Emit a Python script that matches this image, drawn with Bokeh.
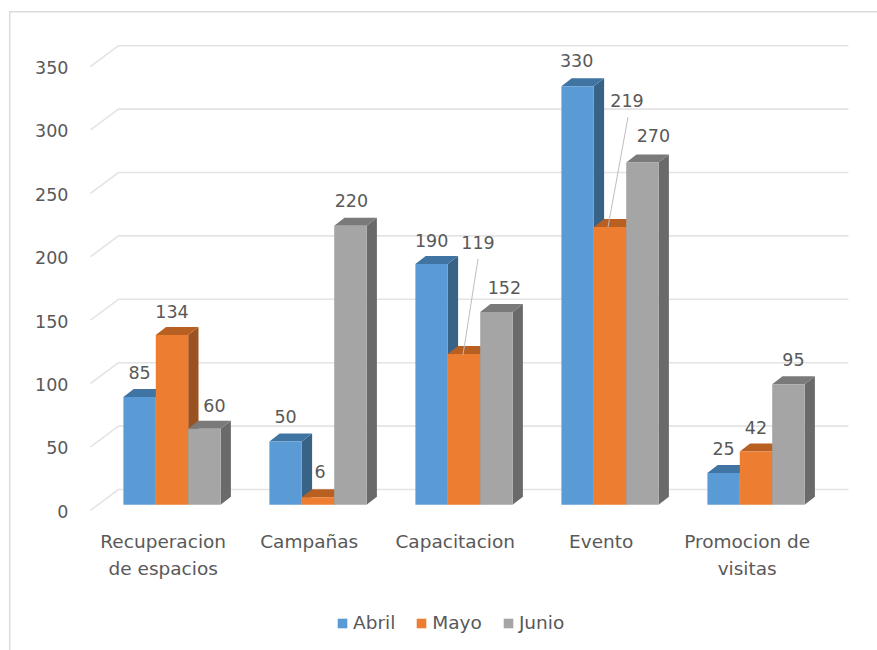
from bokeh.plotting import figure
from bokeh.models import Range1d, LinearAxis, FixedTicker, Legend, LegendItem, ColumnDataSource
from bokeh.core.properties import value
from bokeh.embed import file_html
from bokeh.resources import INLINE

categories = ["Recuperacion\nde espacios", "Campañas", "Capacitacion", "Evento", "Promocion de\nvisitas"]
series_names = ["Abril", "Mayo", "Junio"]
abril = [85, 50, 190, 330, 25]
mayo = [134, 6, 119, 219, 42]
junio = [60, 220, 152, 270, 95]
y_ticks = [0, 50, 100, 150, 200, 250, 300, 350]

FONT = "DejaVu Sans"
FS = "17.5px"
FS_CAT = "18.5px"
TXT = "#595959"
W, H = 877, 650
PX_X, PX_Y = 146.0, 1.268
X0_PAGE, Y0_PAGE = 171.5, 504.3
LEFT, RIGHT, TOP, BOTTOM = 75, W, 0, H
xp = lambda d: d / PX_X
yp = lambda d: d / PX_Y
xr = Range1d((LEFT - X0_PAGE) / PX_X, (RIGHT - X0_PAGE) / PX_X)
yr = Range1d((Y0_PAGE - BOTTOM) / PX_Y, (Y0_PAGE - TOP) / PX_Y)

p = figure(width=W, height=H, x_range=xr, y_range=yr, x_axis_type=None, y_axis_type=None,
           toolbar_location=None, output_backend="svg",
           min_border_left=LEFT, min_border_right=0, min_border_top=0, min_border_bottom=0,
           background_fill_color=None, border_fill_color=None, outline_line_color=None)
p.grid.visible = False
# chart-area frame behind the transparent canvas
p.styles = {"background": "linear-gradient(#dcdcdc,#dcdcdc) 8.5px 11px/1.5px 100% no-repeat,"
                          "linear-gradient(#dcdcdc,#dcdcdc) 8.5px 11px/100% 1.5px no-repeat"}

# value axis
p.extra_y_ranges["axis"] = Range1d(yr.start + yp(6.5), yr.end + yp(6.5))
yax = LinearAxis(y_range_name="axis", ticker=FixedTicker(ticks=y_ticks),
                 axis_line_color=None, major_tick_line_color=None, minor_tick_line_color=None,
                 major_label_text_font=FONT, major_label_text_font_size=FS,
                 major_label_text_color=TXT, major_label_standoff=1)
p.add_layout(yax, "left")

# category labels
p.text(x=[i - xp(8.8) for i in range(len(categories))], y=[0] * len(categories), text=categories,
       y_offset=26, text_align="center", text_baseline="top", text_line_height=1.3,
       text_color=TXT, text_font=value(FONT), text_font_size=FS_CAT)

# floor / wall grid
bx0, bx1, fx = (118 - X0_PAGE) / PX_X, (848 - X0_PAGE) / PX_X, (90 - X0_PAGE) / PX_X
back, front = yp(15.3), yp(-5.5)
p.multi_line(xs=[[fx, bx0, bx1] for _ in y_ticks],
             ys=[[t + front, t + back, t + back] for t in y_ticks],
             line_color="#e4e4e4", line_width=1.6)

# 3D bars
depth_x, depth_y = xp(10.3), yp(8)
bar_w = xp(32.4)
styles = [("#5B9BD5", "#3F74A3", "#396287"),
          ("#ED7D31", "#B85F22", "#9A5220"),
          ("#A5A5A5", "#7A7A7A", "#6A6A6A")]
all_values = [abril, mayo, junio]
front_r = []
for s, (vals, (cf, ct, cs)) in enumerate(zip(all_values, styles)):
    off = (s - 1.5) * bar_w
    lefts = [i + off for i in range(len(vals))]
    rights = [l + bar_w for l in lefts]
    p.patches(xs=[[r, r + depth_x, r + depth_x, r] for r in rights],
              ys=[[0, depth_y, v + depth_y, v] for v in vals],
              fill_color=cs, line_color=None)
    p.patches(xs=[[l, l + depth_x, r + depth_x, r] for l, r in zip(lefts, rights)],
              ys=[[v, v + depth_y, v + depth_y, v] for v in vals],
              fill_color=ct, line_color=None)
    front_r.append(p.quad(left=lefts, right=rights, bottom=0, top=vals, fill_color=cf, line_color=None))

# data labels (pixel nudges from the default place above each bar)
nudge_x = [[0, 0, 0, -1, 0], [0, 2, 14, 17, 0], [10, 1, 8, 11, 5]]
nudge_y = [[24.5, 24.5, 23.5, 25.5, 24.5], [23.5, 25.5, 111.5, 126.5, 24.5], [23.5, 25.5, 24.5, 26.5, 24.5]]
for s, vals in enumerate(all_values):
    xs = [i + (s - 1) * bar_w for i in range(len(vals))]
    src = ColumnDataSource(dict(x=xs, y=vals, t=[str(v) for v in vals],
                                dx=nudge_x[s], dy=[-d for d in nudge_y[s]]))
    p.text(x="x", y="y", text="t", x_offset="dx", y_offset="dy", source=src,
           text_align="center", text_baseline="middle", text_color=TXT,
           text_font=value(FONT), text_font_size=FS)

# leader lines for the two moved labels
for i, (dx0, dy0, dx1, dy1) in {2: (-1, -1, 14, 95), 3: (-2, 0, 18, 110)}.items():
    v = mayo[i]
    p.line([i + xp(dx0), i + xp(dx1)], [v + yp(dy0), v + yp(dy1)], line_color="#bdbdbd", line_width=1)

legend = Legend(items=[LegendItem(label=value(n), renderers=[r]) for n, r in zip(series_names, front_r)],
                orientation="horizontal", location=(338 - LEFT - 2, 650 - 633),
                background_fill_alpha=0, border_line_color=None,
                glyph_width=12, glyph_height=12, label_standoff=5, spacing=20, padding=2, margin=0,
                label_text_font=FONT, label_text_font_size=FS_CAT, label_text_color=TXT)
p.add_layout(legend, "center")

open("out.html", "w").write(file_html(p, INLINE))
